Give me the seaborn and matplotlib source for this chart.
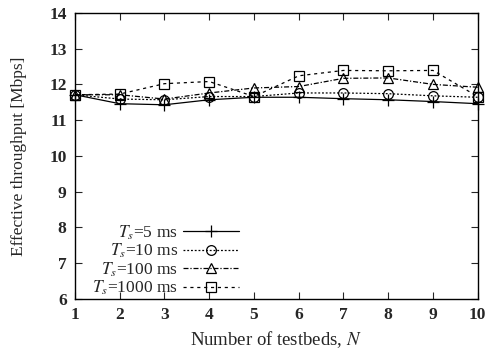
import matplotlib
matplotlib.use("Agg")
import matplotlib.pyplot as plt
import seaborn as sns
import pandas as pd

N = [1, 2, 3, 4, 5, 6, 7, 8, 9, 10]
ts5 = [11.71, 11.46, 11.43, 11.57, 11.64, 11.64, 11.60, 11.57, 11.52, 11.46]
ts10 = [11.71, 11.59, 11.57, 11.66, 11.66, 11.76, 11.76, 11.74, 11.68, 11.64]
ts100 = [11.71, 11.71, 11.59, 11.76, 11.90, 11.94, 12.17, 12.18, 12.00, 11.92]
ts1000 = [11.71, 11.73, 12.02, 12.08, 11.66, 12.24, 12.39, 12.38, 12.39, 11.66]
labels = ["$T_s$=5 ms", "$T_s$=10 ms", "$T_s$=100 ms", "$T_s$=1000 ms"]

sns.set_style("ticks")
plt.rcParams['font.family'] = ['Liberation Serif', 'DejaVu Serif']
plt.rcParams['mathtext.fontset'] = 'stix'

fig = plt.figure(figsize=(4.87, 3.57), dpi=100)
ax = fig.add_axes([0.154, 0.1625, 0.827, 0.8015])

series = [ts5, ts10, ts100, ts1000]
markers = ['+', 'o', '^', 's']
styles = ['-', (0, (1.5, 1.5)), (0, (4, 1.5, 1, 1.5)), (0, (2.5, 3))]
for vals, lab, m, ls in zip(series, labels, markers, styles):
    df = pd.DataFrame({"N": N, "v": vals})
    sns.lineplot(data=df, x="N", y="v", ax=ax, color="black", linewidth=0.9,
                 linestyle=ls, marker=m, markersize=7 if m != '+' else 9,
                 markerfacecolor='none' if m != '+' else 'black',
                 markeredgecolor='black', markeredgewidth=0.9, label=lab,
                 clip_on=False)

ax.set_xlim(1, 10)
ax.set_ylim(6, 14)
ax.set_xticks(N)
ax.set_yticks(range(6, 15))
ax.tick_params(direction='in', top=True, right=True, labelsize=12.5, length=5, pad=6)
for t in ax.get_xticklabels() + ax.get_yticklabels():
    t.set_fontweight('bold')
ax.set_xlabel("Number of testbeds, $N$", fontsize=13.5)
ax.set_ylabel("Effective throughput [Mbps]", fontsize=12.5)
ax.yaxis.set_label_coords(-0.12, 0.5)
ax.xaxis.set_label_coords(0.5, -0.104)
for s in ax.spines.values():
    s.set_linewidth(1.0)
    s.set_color('black')

leg = ax.legend(loc='lower left', bbox_to_anchor=(0.013, -0.036), markerfirst=False,
                frameon=False, fontsize=12.5, handlelength=3.2, labelspacing=0.0,
                borderaxespad=0.3, handletextpad=0.3)

fig.savefig("out.png", dpi=100)
